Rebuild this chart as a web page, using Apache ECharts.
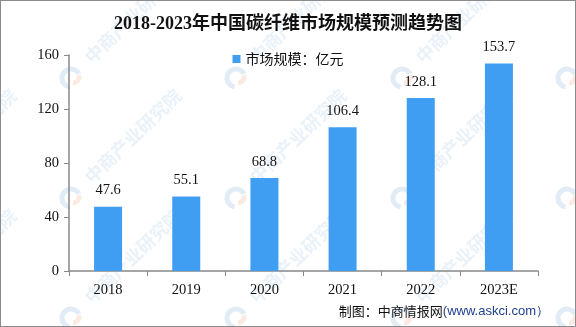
<!DOCTYPE html>
<html>
<head>
<meta charset="utf-8">
<script src="https://cdn.jsdelivr.net/npm/echarts@6/dist/echarts.min.js"></script>
<style>
  html, body { margin: 0; padding: 0; background: #fff; }
  #chart { width: 576px; height: 327px; box-sizing: border-box; border: 1px solid #8c8c8c; }
</style>
</head>
<body>
<div id="chart"></div>
<script>
// 中国碳纤维市场规模（亿元）
const years = ['2018', '2019', '2020', '2021', '2022', '2023E'];
const marketSize = [47.6, 55.1, 68.8, 106.4, 128.1, 153.7];
const yTicks = { min: 0, max: 160, interval: 40 };

const serif = '"Liberation Serif", "DejaVu Serif", "Noto Sans CJK SC", serif';
const sans = '"Noto Sans CJK SC", "Liberation Sans", sans-serif';

// faint tiled brand watermark: logo ring + diagonal name
function watermarks() {
  const out = [];
  const cols = [-95, 70, 235, 401, 566];
  const rows = [-43, 77, 197, 317];
  rows.forEach(y => cols.forEach(x => {
    out.push({
      type: 'text', x: x + 62, y: y - 62, rotation: 44 * Math.PI / 180, z: 0, silent: true,
      style: {
        text: '中商产业研究院', fontFamily: sans, fontSize: 18, fontWeight: 'bold',
        fill: 'rgba(120,170,215,0.16)', align: 'center', verticalAlign: 'middle'
      }
    });
    out.push({
      type: 'arc', z: 0, silent: true,
      shape: { cx: x, cy: y, r: 9, startAngle: Math.PI * 0.55, endAngle: Math.PI * 1.85 },
      style: { stroke: 'rgba(120,170,215,0.22)', lineWidth: 5, fill: null }
    });
    out.push({
      type: 'arc', z: 0, silent: true,
      shape: { cx: x + 2, cy: y - 1, r: 6, startAngle: -Math.PI * 0.1, endAngle: Math.PI * 0.5 },
      style: { stroke: 'rgba(240,150,110,0.2)', lineWidth: 5, fill: null }
    });
  }));
  return out;
}

const chart = echarts.init(document.getElementById('chart'), null, { renderer: 'canvas' });
chart.setOption({
  animation: false,
  title: {
    text: '2018-2023年中国碳纤维市场规模预测趋势图',
    left: 'center',
    top: 9,
    textStyle: { fontFamily: serif, fontSize: 18, fontWeight: 'bold', color: '#111' }
  },
  legend: {
    top: 46,
    left: 'center',
    itemWidth: 8,
    itemHeight: 8,
    itemGap: 6,
    icon: 'rect',
    textStyle: { fontFamily: sans, fontSize: 14, color: '#111' },
    data: ['市场规模：亿元']
  },
  grid: { left: 68, right: 37, top: 54, bottom: 55 },
  xAxis: {
    type: 'category',
    data: years,
    axisLine: { lineStyle: { color: '#888', width: 1.5 } },
    axisTick: { show: true, length: 5, lineStyle: { color: '#888' } },
    axisLabel: { fontFamily: serif, fontSize: 14.5, color: '#111', margin: 12 }
  },
  yAxis: {
    type: 'value',
    min: yTicks.min,
    max: yTicks.max,
    interval: yTicks.interval,
    splitLine: { show: false },
    axisLine: { show: true, lineStyle: { color: '#888', width: 1.5 } },
    axisTick: { show: true, length: 5, lineStyle: { color: '#888' } },
    axisLabel: { fontFamily: serif, fontSize: 14.5, color: '#111', margin: 10 }
  },
  series: [{
    name: '市场规模：亿元',
    type: 'bar',
    data: marketSize,
    barWidth: 28,
    z: 3,
    itemStyle: { color: '#409EF2' },
    label: {
      show: true,
      position: 'top',
      distance: 9,
      fontFamily: serif,
      fontSize: 14.5,
      color: '#111',
      formatter: p => p.value.toFixed(1)
    }
  }],
  graphic: watermarks().concat([{
    type: 'text',
    right: 26,
    bottom: 8,
    z: 10,
    style: {
      text: '{a|制图：中商情报网}{b|(www.askci.com）}',
      rich: {
        a: { fontFamily: sans, fontSize: 13, fill: '#111' },
        b: { fontFamily: '"Liberation Sans", sans-serif', fontSize: 13, fill: '#1f3f8f' }
      }
    }
  }])
});
</script>
</body>
</html>
